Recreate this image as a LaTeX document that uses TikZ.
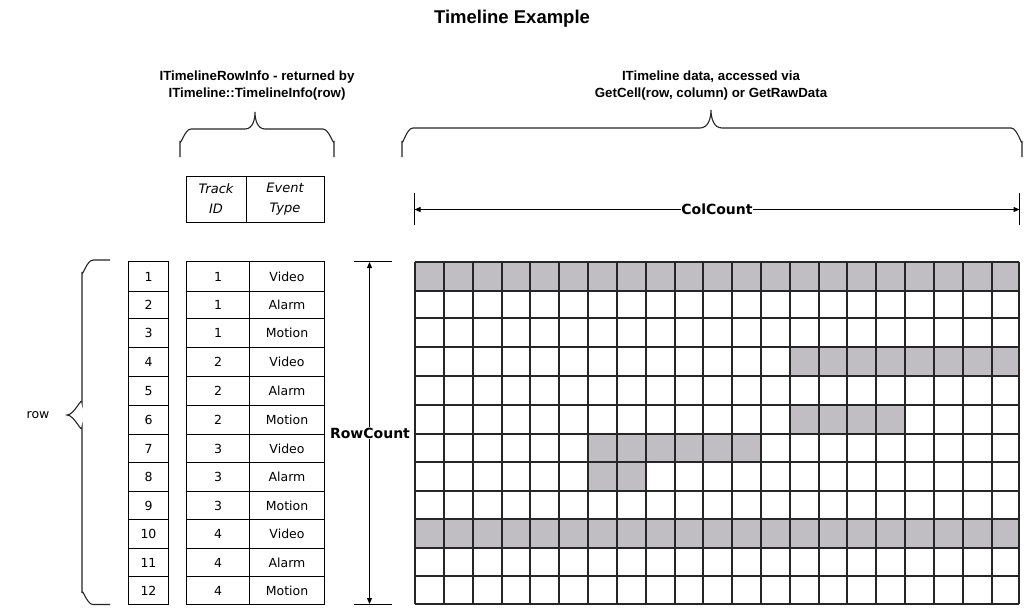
\documentclass[tikz,border=0pt]{standalone}
\usepackage{fontspec}
\setmainfont{Liberation Sans}
\newfontfamily\dejavu{DejaVu Sans}
\usetikzlibrary{arrows.meta}
\definecolor{cellgray}{RGB}{192,190,195}
\begin{document}
\begin{tikzpicture}[x=1pt,y=-1pt,
  gridline/.style={line width=1.6pt,black!85},
  tabline/.style={line width=1pt,black},
  bracepath/.style={line width=1.1pt,black!85},
  titletext/.style={font=\bfseries\fontsize{18.5}{20}\selectfont},
  headtext/.style={font=\bfseries\fontsize{13.3}{17}\selectfont,align=center},
  celltext/.style={font=\dejavu\fontsize{12.5}{15}\selectfont},
  colhead/.style={font=\dejavu\itshape\fontsize{13}{20}\selectfont,align=center},
  counttext/.style={font=\dejavu\bfseries\fontsize{14}{16}\selectfont,fill=white,inner sep=0.5pt},
  dimarrow/.style={line width=1pt,{Triangle[length=6pt,width=5pt]}-{Triangle[length=6pt,width=5pt]}},
  tick/.style={line width=1pt}]
\useasboundingbox (0,0) rectangle (1024,607);
\fill[white] (0,0) rectangle (1024,607);
\def\CX{{415,444,473,502,530,559,588,617,646,675,703,732,761,790,819,847,876,905,934,963,992,1019}}
\def\RY{{262,291,318,347,376,405,434,462,491,519,548,576,604}}

% title and headings
\node[titletext] (title) at (512,19) {Timeline Example};
\node[headtext] (rowinfo) at (257,86) {ITimelineRowInfo - returned by\\ITimeline::TimelineInfo(row)};
\node[headtext] (tldata) at (711,86) {ITimeline data, accessed via\\GetCell(row, column) or GetRawData};

% braces
\draw[bracepath] (180,157) -- (180,141) to[out=-90,in=180] (191,129) -- (245,129)
  to[out=0,in=-90] (255,112) to[out=-90,in=180] (265,129) -- (323,129)
  to[out=0,in=-90] (334,141) -- (334,157);
\draw[bracepath] (402,157) -- (402,141) to[out=-90,in=180] (413,128) -- (700,128)
  to[out=0,in=-90] (711,110) to[out=-90,in=180] (722,128) -- (1011,128)
  to[out=0,in=-90] (1022,141) -- (1022,157);
\draw[bracepath] (110,260) -- (93,260) to[out=180,in=-90] (82,272) -- (82,403)
  to[out=90,in=0] (67,415) to[out=0,in=-90] (82,427) -- (82,593)
  to[out=90,in=180] (93,604.5) -- (110,604.5);
\node[celltext] (rowlbl) at (38,415) {row};

% column header box
\draw[tabline] (186.5,176.5) rectangle (324.5,222.5);
\draw[tabline] (246.5,176.5) -- (246.5,222.5);
\node[colhead] (trackhd) at (216,199) {Track\\ID};
\node[colhead] (eventhd) at (285,199) {Event\\Type};

% row number table and row info table
\draw[tabline] (128.5,261.5) rectangle (168.5,604.5);
\draw[tabline] (186.5,261.5) rectangle (324.5,604.5);
\draw[tabline] (249.5,261.5) -- (249.5,604.5);
\foreach \j in {1,...,11} {
  \pgfmathsetmacro{\yy}{\RY[\j]}
  \draw[tabline] (128.5,\yy+0.5) -- (168.5,\yy+0.5);
  \draw[tabline] (186.5,\yy+0.5) -- (324.5,\yy+0.5);
}
\foreach \t/\e [count=\k] in {1/Video,1/Alarm,1/Motion,2/Video,2/Alarm,2/Motion,3/Video,3/Alarm,3/Motion,4/Video,4/Alarm,4/Motion} {
  \pgfmathtruncatemacro{\km}{\k-1}
  \pgfmathsetmacro{\ya}{\RY[\km]}
  \pgfmathsetmacro{\yb}{\RY[\k]}
  \pgfmathsetmacro{\yc}{(\ya+\yb)/2+0.5}
  \node[celltext] (rn\k) at (148.5,\yc) {\k};
  \node[celltext] (tr\k) at (218,\yc) {\t};
  \node[celltext] (ev\k) at (287,\yc) {\e};
}

% data grid shading
\foreach \r/\a/\b in {1/1/21,4/14/21,6/14/17,7/7/12,8/7/8,10/1/21} {
  \pgfmathtruncatemacro{\am}{\a-1}
  \pgfmathtruncatemacro{\rm}{\r-1}
  \pgfmathsetmacro{\xa}{\CX[\am]}
  \pgfmathsetmacro{\xb}{\CX[\b]}
  \pgfmathsetmacro{\ya}{\RY[\rm]}
  \pgfmathsetmacro{\yb}{\RY[\r]}
  \fill[cellgray] (\xa,\ya) rectangle (\xb,\yb);
}
\foreach \i in {0,...,21} {
  \pgfmathsetmacro{\xx}{\CX[\i]}
  \draw[gridline] (\xx,262) -- (\xx,604);
}
\foreach \j in {0,...,12} {
  \pgfmathsetmacro{\yy}{\RY[\j]}
  \draw[gridline] (415,\yy) -- (1019,\yy);
}

% RowCount dimension
\coordinate (rcT) at (369.5,262);
\coordinate (rcB) at (369.5,604);
\draw[tick] (354,261.5) -- (392,261.5);
\draw[tick] (354,604.5) -- (392,604.5);
\draw[dimarrow] (rcT) -- (rcB);
\node[counttext] (rowcount) at (370,433) {RowCount};

% ColCount dimension
\coordinate (ccL) at (414.5,209.5);
\coordinate (ccR) at (1019.5,209.5);
\draw[tick] (414.5,193) -- (414.5,225);
\draw[tick] (1019.5,193) -- (1019.5,225);
\draw[dimarrow] (ccL) -- (ccR);
\node[counttext] (colcount) at (717,209.5) {ColCount};
\end{tikzpicture}
\end{document}
